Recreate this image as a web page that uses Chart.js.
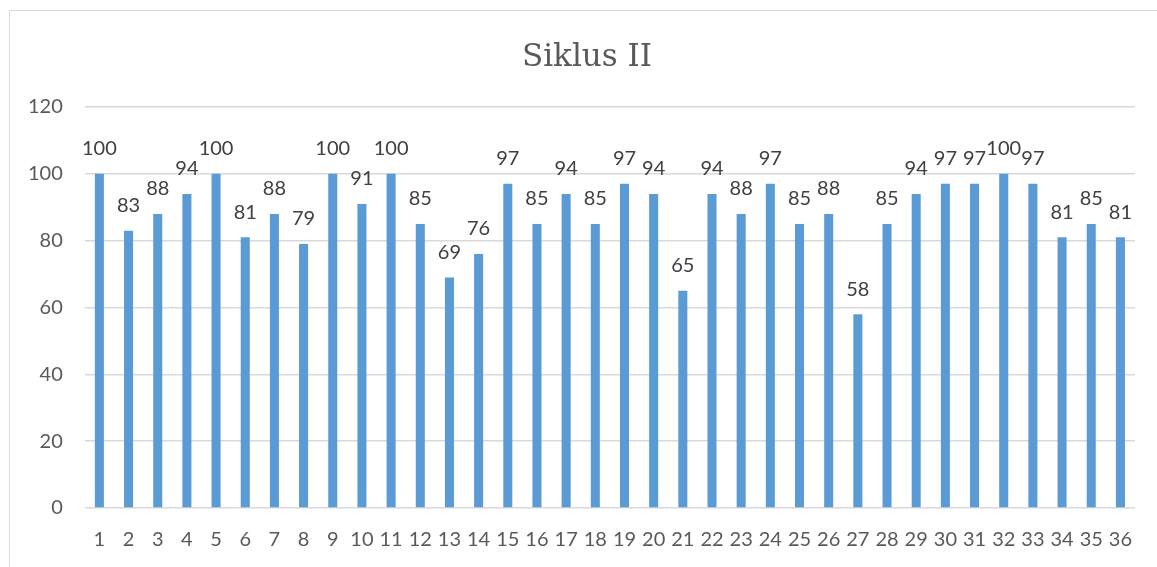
<!DOCTYPE html>
<html>
<head>
<meta charset="utf-8">
<script src="https://cdn.jsdelivr.net/npm/chart.js@4"></script>
<style>
  body { margin: 0; background: #fff; overflow: hidden; }
  #frame { position: absolute; left: 9px; top: 10px; width: 1200px; height: 600px;
           border-left: 1px solid #d9d9d9; border-top: 1px solid #d9d9d9; }
  #wrap { position: absolute; left: 0; top: 0; width: 1157px; height: 567px; }
</style>
</head>
<body>
<div id="frame"></div>
<div id="wrap"><canvas id="myChart"></canvas></div>
<script>
// data
const labels = ["1","2","3","4","5","6","7","8","9","10","11","12","13","14","15","16","17","18",
  "19","20","21","22","23","24","25","26","27","28","29","30","31","32","33","34","35","36"];
const nilai = [100, 83, 88, 94, 100, 81, 88, 79, 100, 91, 100, 85, 69, 76, 97, 85, 94, 85,
  97, 94, 65, 94, 88, 97, 85, 88, 58, 85, 94, 97, 97, 100, 97, 81, 85, 81];
const yTicks = [0, 20, 40, 60, 80, 100, 120];
const judul = "Siklus II";

// value above each bar + the title (centred on the whole frame, not the canvas padding)
const barLabels = {
  id: "barLabels",
  afterDatasetsDraw(chart) {
    const ctx = chart.ctx;
    const meta = chart.getDatasetMeta(0);
    ctx.save();
    ctx.font = "20px Lato";
    ctx.fillStyle = "#404040";
    ctx.textAlign = "center";
    ctx.textBaseline = "bottom";
    meta.data.forEach((bar, i) => {
      ctx.fillText(String(nilai[i]), bar.x, bar.y - 15);
    });

    ctx.font = "31px 'DejaVu Serif'";
    ctx.fillStyle = "#595959";
    ctx.textBaseline = "alphabetic";
    ctx.fillText(judul, 587, 66);
    ctx.restore();
  }
};

const myChart = document.getElementById("myChart");
new Chart(myChart, {
  type: "bar",
  data: {
    labels,
    datasets: [{
      label: judul,
      data: nilai,
      backgroundColor: "#5b9bd5",
      borderWidth: 0,
      categoryPercentage: 1,
      barPercentage: 0.31
    }]
  },
  options: {
    responsive: true,
    maintainAspectRatio: false,
    animation: false,
    layout: { padding: { left: 6, right: 22, top: 107, bottom: 3 } },
    plugins: {
      legend: { display: false },
      tooltip: { enabled: false },
      title: { display: false }
    },
    scales: {
      x: {
        grid: { display: false },
        border: { display: false },
        ticks: { color: "#595959", font: { family: "Lato", size: 20 }, padding: 12, maxRotation: 0, autoSkip: false }
      },
      y: {
        min: 0,
        max: 120,
        afterBuildTicks(axis) { axis.ticks = yTicks.map(v => ({ value: v })); },
        grid: { color: "#d9d9d9", lineWidth: 1.5, drawTicks: false },
        border: { display: false },
        ticks: { color: "#595959", font: { family: "Lato", size: 20 }, padding: 22 }
      }
    }
  },
  plugins: [barLabels]
});
</script>
</body>
</html>
